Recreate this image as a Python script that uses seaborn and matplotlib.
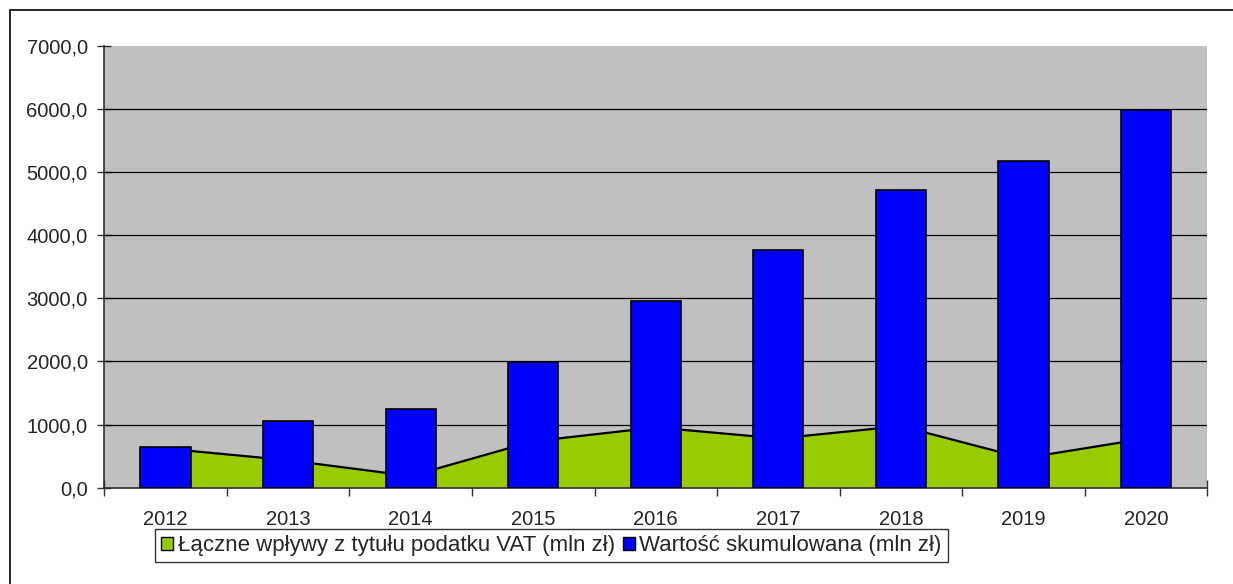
import numpy as np
import pandas as pd
import matplotlib
matplotlib.use("Agg")
import matplotlib.pyplot as plt
from matplotlib.patches import Patch
from matplotlib.lines import Line2D
import seaborn as sns

# data
years = ["2012", "2013", "2014", "2015", "2016", "2017", "2018", "2019", "2020"]
vat_income = [620, 435, 185, 735, 955, 780, 975, 467, 780]          # Łączne wpływy (area)
cumulative = [639, 1060, 1250, 1995, 2953, 3758, 4712, 5177, 5977]  # Wartość skumulowana (bars)
y_ticks = [0, 1000, 2000, 3000, 4000, 5000, 6000, 7000]

label_area = "Łączne wpływy z tytułu podatku VAT (mln zł)"
label_bars = "Wartość skumulowana (mln zł)"

df = pd.DataFrame({"rok": years, "vat": vat_income, "skum": cumulative})

sns.set_style("white")
plt.rcParams["font.family"] = ["Liberation Sans", "DejaVu Sans"]

fig = plt.figure(figsize=(12.33, 5.84), dpi=100)
ax = fig.add_axes([104.3 / 1233, 1 - 487.7 / 584, 1103 / 1233, 442 / 584])
ax.set_facecolor("#C0C0C0")

# horizontal grid lines (not at the top edge)
for v in y_ticks[1:-1]:
    ax.axhline(v, color="black", lw=0.9, zorder=1)

# area series behind the bars
pos = np.arange(len(years))
ax.fill_between(pos, df["vat"], 0, color="#99CC00", lw=0, zorder=2)
ax.plot(pos, df["vat"], color="black", lw=1.6, zorder=2.5)

sns.barplot(data=df, x="rok", y="skum", color="#0000FF", saturation=1,
            edgecolor="black", linewidth=1.2, width=0.41, ax=ax, zorder=3)

ax.set_xlim(-0.5, len(years) - 0.5)
ax.set_ylim(0, 7000)
ax.set_xlabel("")
ax.set_ylabel("")

ax.set_yticks(y_ticks)
ax.set_yticklabels([f"{v:.1f}".replace(".", ",") for v in y_ticks])
ax.tick_params(axis="y", direction="inout", length=10, width=1, color="#303030",
               labelsize=14.5, pad=7, left=True)

ax.set_xticks(pos)
ax.set_xticklabels(years)
ax.set_xticks(np.arange(-0.5, len(years)), minor=True)
ax.tick_params(axis="x", which="major", length=0, labelsize=14.5, pad=16)
ax.tick_params(axis="x", which="minor", direction="inout", length=12, width=1,
               color="#303030", bottom=True)

for side in ["top", "right"]:
    ax.spines[side].set_visible(False)
for side in ["left", "bottom"]:
    ax.spines[side].set_color("#303030")
    ax.spines[side].set_linewidth(1.2)

handles = [Patch(facecolor="#99CC00", edgecolor="black", lw=1, label=label_area),
           Patch(facecolor="#0000FF", edgecolor="black", lw=1, label=label_bars)]
leg = fig.legend(handles=handles, loc="upper left", bbox_to_anchor=(155 / 1233, 1 - 529 / 584),
                 ncol=2, frameon=True, fancybox=False, edgecolor="black",
                 fontsize=16, handlelength=0.55, handleheight=0.55, handletextpad=0.2,
                 columnspacing=0.35, borderpad=0.28, borderaxespad=0)
leg.get_frame().set_linewidth(1)

# outer chart frame (left and top edges visible)
fig.add_artist(Line2D([10 / 1233, 10 / 1233], [0, 1 - 10 / 584], color="black", lw=1.2))
fig.add_artist(Line2D([10 / 1233, 1], [1 - 10 / 584, 1 - 10 / 584], color="black", lw=1.2))

fig.savefig("out.png", dpi=100)
